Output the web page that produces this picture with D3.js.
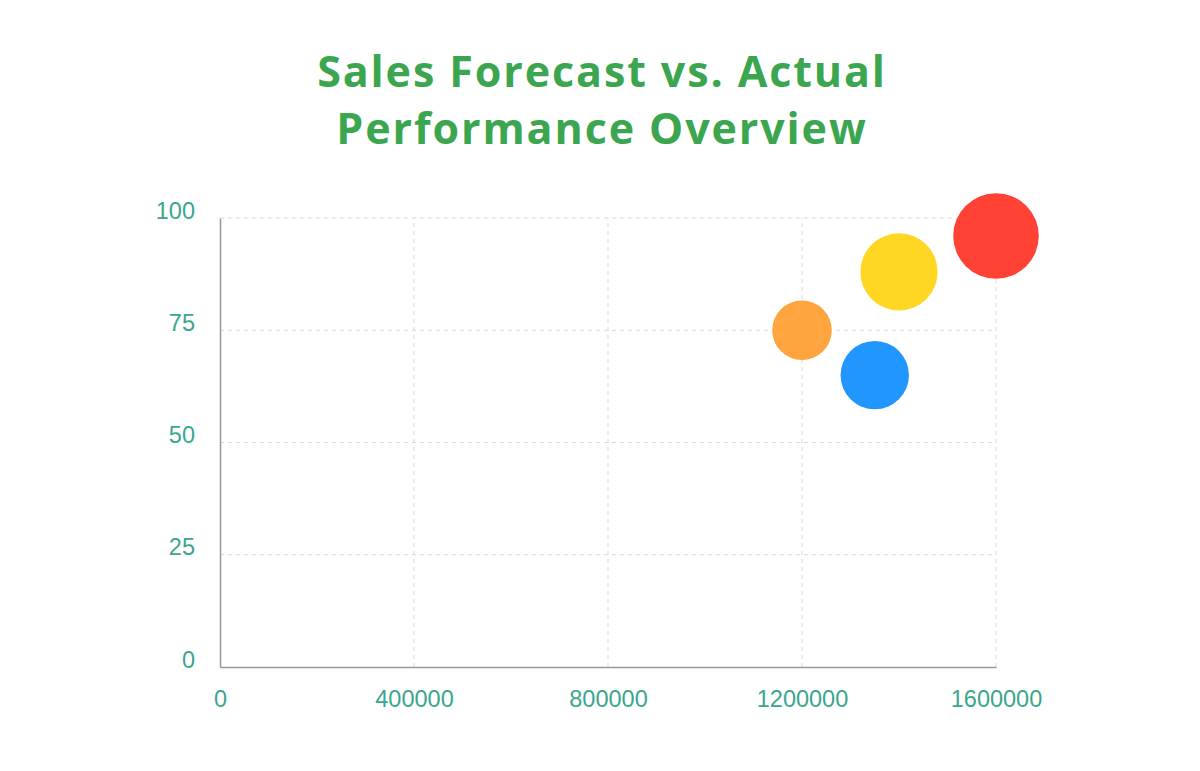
<!DOCTYPE html>
<html>
<head>
<meta charset="utf-8">
<script src="https://cdn.jsdelivr.net/npm/d3@7"></script>
<style>
  html, body { margin: 0; padding: 0; background: #fff; }
  #app { width: 1200px; height: 771px; }
</style>
</head>
<body>
<div id="app"></div>
<script>
// data
const titleLines = ["Sales Forecast vs. Actual", "Performance Overview"];
const salesValues = [1200000, 1350000, 1400000, 1600000];
const scoreValues = [75, 65, 88, 96];
const bubbleSizes = [14.9, 17.1, 19.3, 21.4];
const bubbleColors = ["#FFA53F", "#2196FF", "#FFD621", "#FF4136"];
const xTicks = [0, 400000, 800000, 1200000, 1600000];
const yTicks = [0, 25, 50, 75, 100];

const width = 1200;
const height = 771;
const margin = { top: 218, right: 204, bottom: 104, left: 220 };

const svg = d3.select("#app")
  .append("svg")
  .attr("width", width)
  .attr("height", height);

// title
svg.append("g")
  .selectAll("text")
  .data(titleLines)
  .enter()
  .append("text")
  .attr("x", 602)
  .attr("y", (d, i) => 87 + i * 57)
  .attr("text-anchor", "middle")
  .style("font-family", "'Open Sans', 'Noto Sans', sans-serif")
  .style("font-weight", "700")
  .style("font-size", "43px")
  .style("letter-spacing", "1.9px")
  .style("fill", "#3BA54F")
  .text(d => d);

const x = d3.scaleLinear()
  .domain([0, 1600000])
  .range([margin.left, width - margin.right]);

const y = d3.scaleLinear()
  .domain([0, 100])
  .range([height - margin.bottom, margin.top]);

const r = d3.scaleLinear()
  .domain([0, 100])
  .range([0, 200]);

// gridlines
const grid = svg.append("g").attr("class", "grid");
grid.selectAll("line.h")
  .data(yTicks.filter(d => d > 0))
  .enter()
  .append("line")
  .attr("x1", x(0))
  .attr("x2", x(1600000))
  .attr("y1", d => y(d))
  .attr("y2", d => y(d))
  .style("stroke", "#d9d9d9")
  .style("stroke-dasharray", "4,4");
grid.selectAll("line.v")
  .data(xTicks.filter(d => d > 0))
  .enter()
  .append("line")
  .attr("x1", d => x(d))
  .attr("x2", d => x(d))
  .attr("y1", y(0))
  .attr("y2", y(100))
  .style("stroke", "#d9d9d9")
  .style("stroke-dasharray", "4,4");

// axes
const xAxis = svg.append("g")
  .attr("transform", `translate(0,${y(0)})`)
  .call(d3.axisBottom(x).tickValues(xTicks).tickSize(0).tickPadding(28).tickFormat(d3.format("d")));
const yAxis = svg.append("g")
  .attr("transform", `translate(${x(0)},0)`)
  .call(d3.axisLeft(y).tickValues(yTicks).tickSize(0).tickPadding(25).tickFormat(d3.format("d")));

[xAxis, yAxis].forEach(ax => {
  ax.select(".domain").style("stroke", "#999").style("stroke-width", 1.5);
  ax.selectAll("text")
    .style("font-family", "'Liberation Sans', Arial, sans-serif")
    .style("font-size", "23.5px")
    .style("fill", "#3AA68E");
});
yAxis.selectAll("text").attr("dy", "0").attr("y", 0);
xAxis.selectAll("text").attr("dy", "0").attr("y", 40);

// bubbles
svg.append("g")
  .selectAll("circle")
  .data(salesValues.map((v, i) => ({ sales: v, score: scoreValues[i], size: bubbleSizes[i], color: bubbleColors[i] })))
  .enter()
  .append("circle")
  .attr("cx", d => x(d.sales))
  .attr("cy", d => y(d.score))
  .attr("r", d => r(d.size))
  .style("fill", d => d.color);
</script>
</body>
</html>
